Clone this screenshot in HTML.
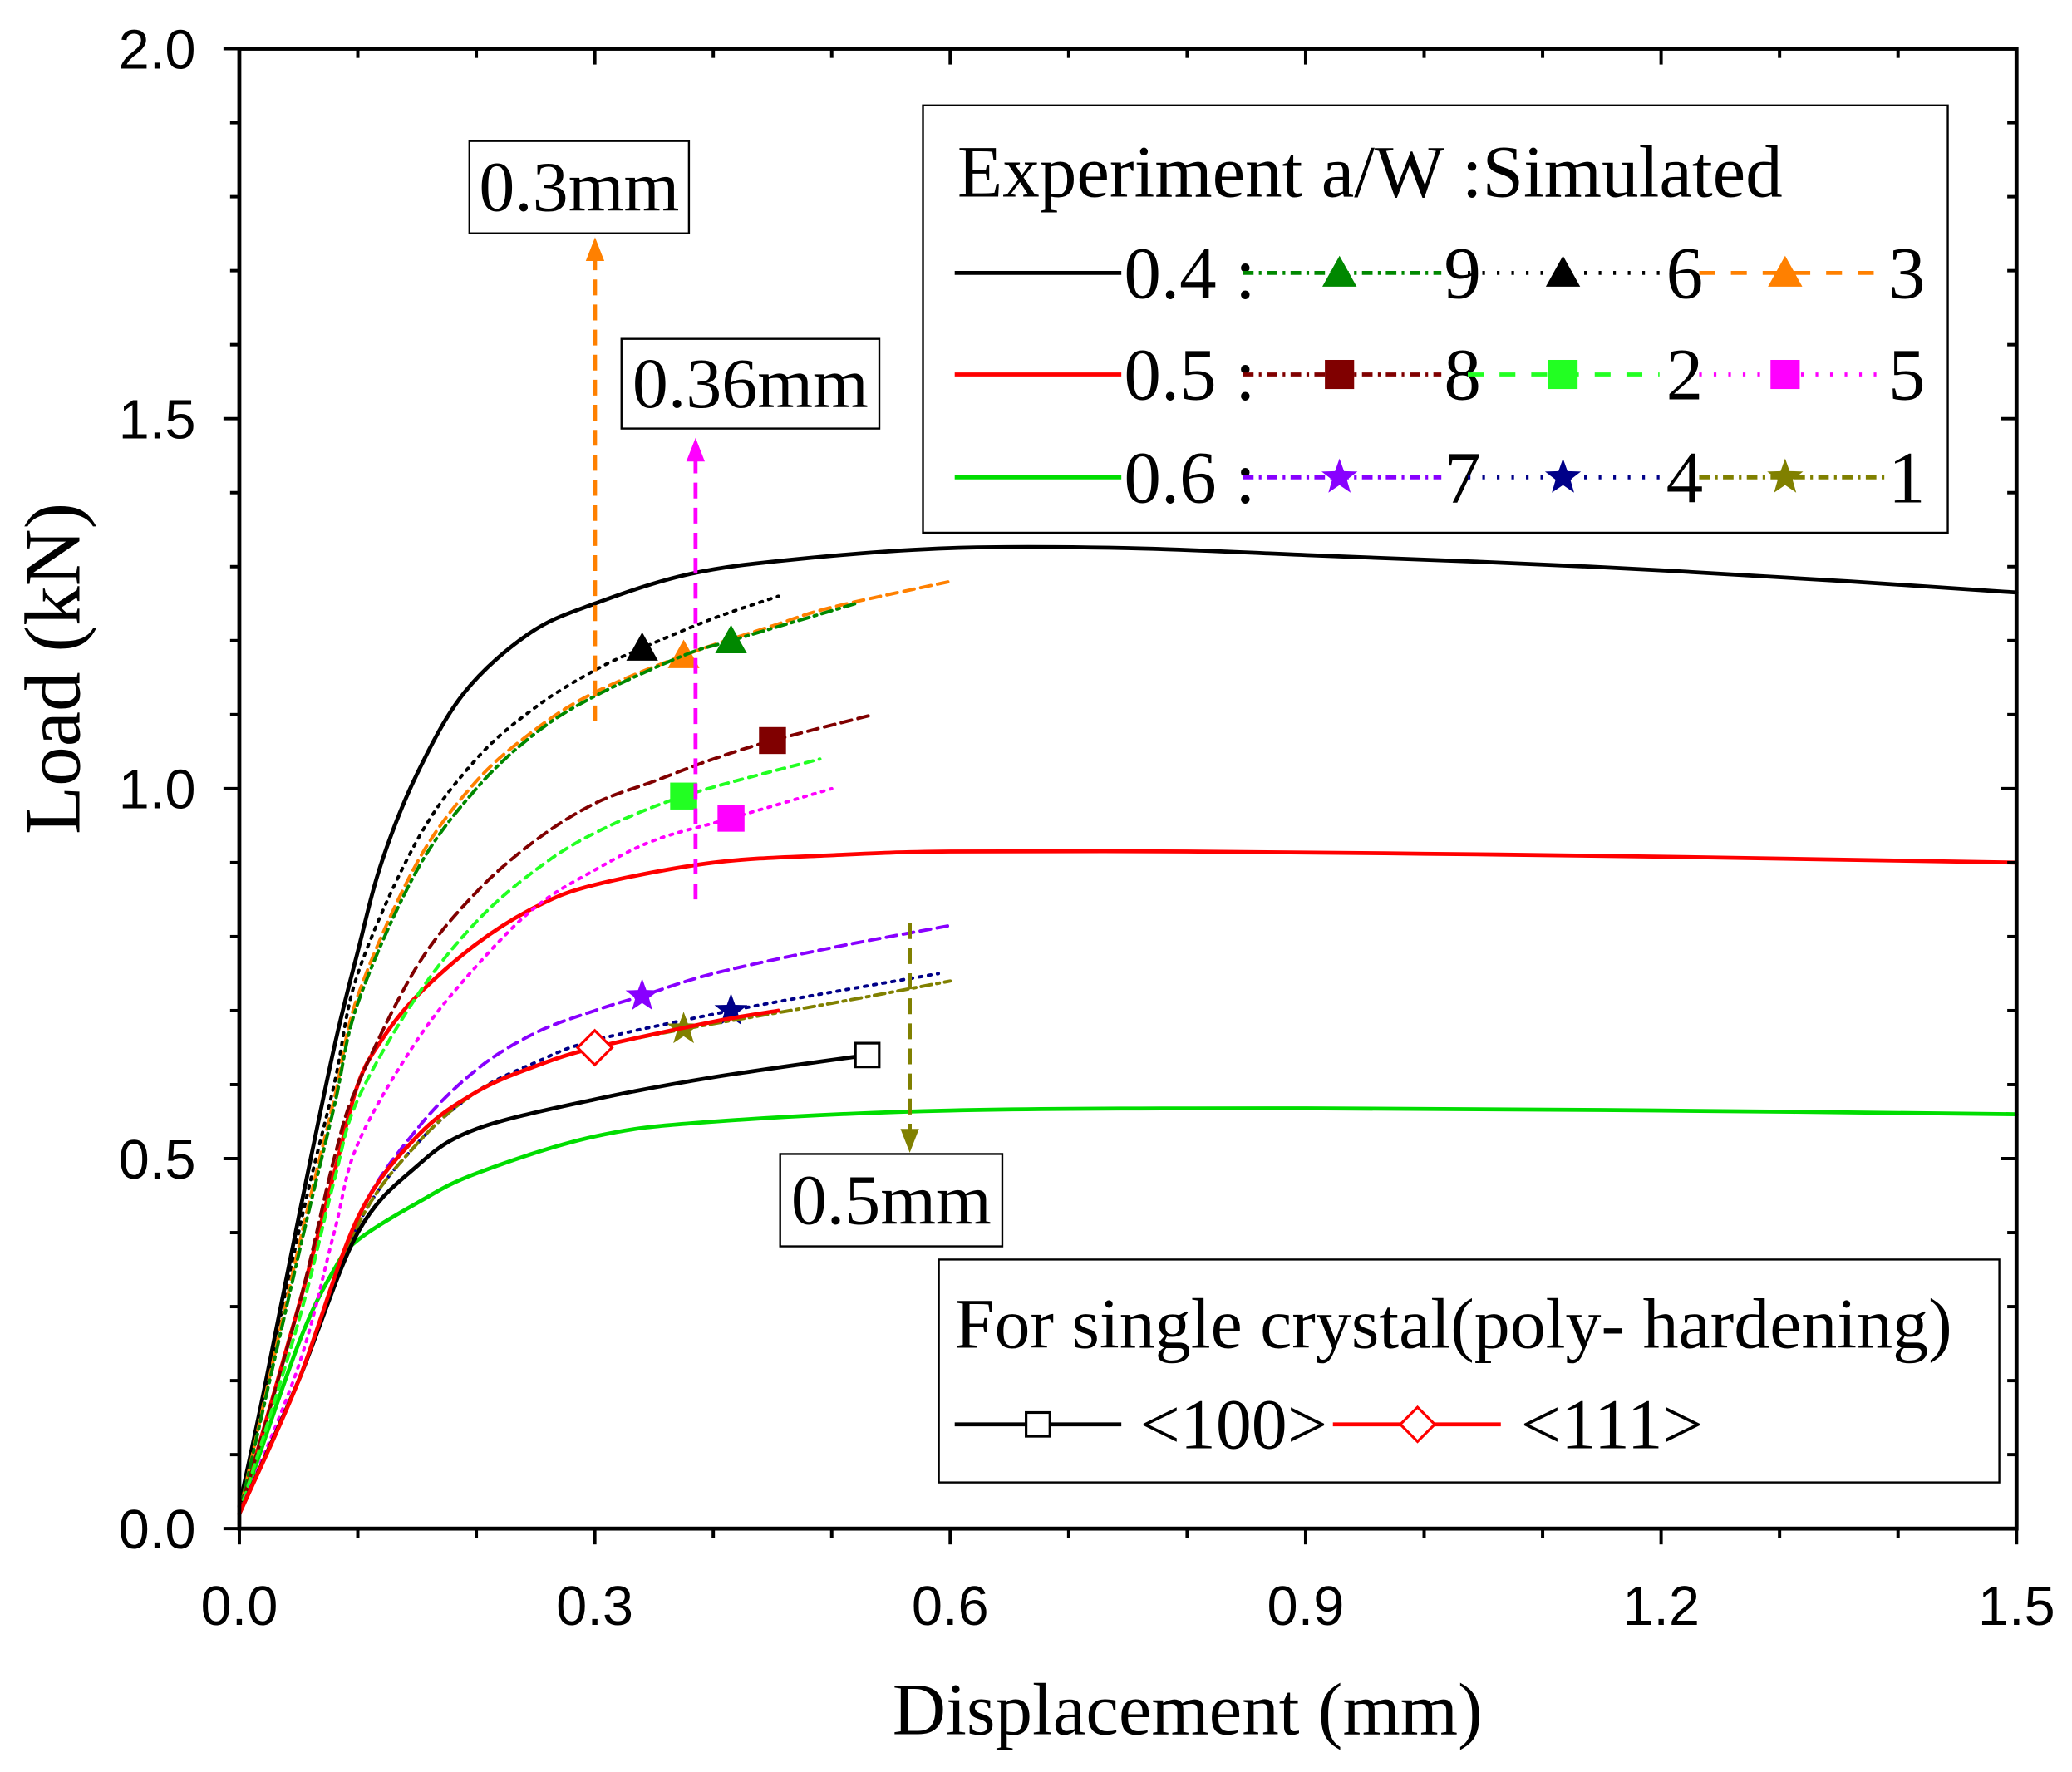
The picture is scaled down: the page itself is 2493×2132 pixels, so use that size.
<!DOCTYPE html>
<html><head><meta charset="utf-8"><style>html,body{margin:0;padding:0;background:#fff}svg{display:block}</style></head>
<body>
<svg id="chart" xmlns="http://www.w3.org/2000/svg" width="2493" height="2132" viewBox="0 0 2493 2132">
<rect width="2493" height="2132" fill="#fff"/>
<g id="root" transform="translate(0,3) scale(1.591,1.587)"></g>
</svg>
<script>
// ---- data ----
const xTicks = [0.0, 0.3, 0.6, 0.9, 1.2, 1.5];
const yTicks = [0.0, 0.5, 1.0, 1.5, 2.0];
const exp04X = [0,0.02,0.05,0.08,0.1,0.12,0.15,0.19,0.245,0.3,0.38,0.47,0.6,0.75,0.91,1.14,1.36,1.5];
const exp04Y = [0.03,0.18,0.42,0.65,0.78,0.9,1.02,1.13,1.21,1.25,1.29,1.31,1.325,1.325,1.315,1.3,1.28,1.265];
const exp05X = [0,0.05,0.08,0.1,0.12,0.15,0.2,0.25,0.3,0.4,0.5,0.6,0.8,1.0,1.2,1.5];
const exp05Y = [0.02,0.3,0.48,0.6,0.66,0.72,0.79,0.84,0.87,0.9,0.91,0.915,0.915,0.912,0.908,0.9];
const exp06X = [0,0.05,0.08,0.1,0.15,0.2,0.3,0.4,0.6,0.9,1.2,1.5];
const exp06Y = [0.02,0.25,0.35,0.39,0.44,0.48,0.53,0.55,0.565,0.568,0.565,0.56];
const sim6X = [0,0.05,0.08,0.1,0.15,0.2,0.25,0.3,0.34,0.4,0.455];
const sim6Y = [0.02,0.4,0.6,0.75,0.93,1.04,1.11,1.16,1.19,1.23,1.26];
const sim3X = [0,0.05,0.08,0.1,0.15,0.2,0.25,0.3,0.375,0.45,0.5,0.6];
const sim3Y = [0.02,0.38,0.58,0.72,0.9,1.01,1.08,1.13,1.18,1.22,1.245,1.28];
const sim9X = [0,0.05,0.08,0.1,0.15,0.2,0.25,0.3,0.375,0.415,0.52];
const sim9Y = [0.02,0.37,0.57,0.71,0.89,1.0,1.075,1.125,1.18,1.2,1.25];
const sim8X = [0,0.05,0.08,0.1,0.15,0.2,0.25,0.3,0.35,0.4,0.45,0.535];
const sim8Y = [0.02,0.3,0.5,0.6,0.76,0.86,0.93,0.98,1.01,1.04,1.065,1.1];
const sim2X = [0,0.05,0.08,0.1,0.15,0.2,0.25,0.3,0.375,0.49];
const sim2Y = [0.02,0.28,0.47,0.58,0.72,0.82,0.89,0.94,0.99,1.04];
const sim5X = [0,0.05,0.08,0.1,0.15,0.2,0.25,0.3,0.35,0.415,0.5];
const sim5Y = [0.02,0.22,0.4,0.52,0.66,0.76,0.84,0.89,0.93,0.96,1.0];
const sim7X = [0,0.05,0.1,0.15,0.2,0.25,0.3,0.34,0.4,0.5,0.6];
const sim7Y = [0.02,0.2,0.42,0.54,0.62,0.67,0.7,0.72,0.75,0.785,0.815];
const sim4X = [0,0.05,0.1,0.15,0.2,0.25,0.3,0.415,0.5,0.59];
const sim4Y = [0.02,0.2,0.41,0.52,0.59,0.63,0.66,0.7,0.725,0.75];
const sim1X = [0,0.05,0.1,0.15,0.2,0.25,0.3,0.375,0.5,0.6];
const sim1Y = [0.02,0.2,0.41,0.52,0.59,0.625,0.65,0.675,0.71,0.74];
const c100X = [0,0.05,0.1,0.15,0.2,0.3,0.4,0.53];
const c100Y = [0.02,0.2,0.4,0.49,0.54,0.58,0.61,0.64];
const c111X = [0,0.05,0.1,0.15,0.2,0.25,0.3,0.4,0.455];
const c111Y = [0.02,0.2,0.42,0.53,0.59,0.625,0.65,0.685,0.7];

const NS='http://www.w3.org/2000/svg';
const root=document.getElementById('root');
const xs=v=>181+v/1.5*1344;
const ys=v=>1157-v/2*1122;
function el(tag,attrs,parent){const e=document.createElementNS(NS,tag);for(const k in attrs)e.setAttribute(k,attrs[k]);(parent||root).appendChild(e);return e;}
function smooth(pts){let d='M'+pts[0][0]+','+pts[0][1];for(let i=0;i<pts.length-1;i++){const p0=pts[i-1]||pts[i],p1=pts[i],p2=pts[i+1],p3=pts[i+2]||p2;d+=' C'+(p1[0]+(p2[0]-p0[0])/6)+','+(p1[1]+(p2[1]-p0[1])/6)+' '+(p2[0]-(p3[0]-p1[0])/6)+','+(p2[1]-(p3[1]-p1[1])/6)+' '+p2[0]+','+p2[1];}return d;}
function marker(type,cx,cy,color,parent,s){s=s||12;let e;
 if(type==='tri')e=el('polygon',{points:`${cx},${cy-s} ${cx-s},${cy+s*0.8} ${cx+s},${cy+s*0.8}`,fill:color},parent);
 else if(type==='sq')e=el('rect',{x:cx-s*0.85,y:cy-s*0.85,width:s*1.7,height:s*1.7,fill:color},parent);
 else if(type==='star'){let p=[];for(let i=0;i<10;i++){const r=i%2?s*0.45:s*1.1,a=-Math.PI/2+i*Math.PI/5;p.push((cx+r*Math.cos(a)).toFixed(1)+','+(cy+r*Math.sin(a)).toFixed(1));}e=el('polygon',{points:p.join(' '),fill:color},parent);}
 else if(type==='osq')e=el('rect',{x:cx-9,y:cy-9,width:18,height:18,fill:'#fff',stroke:color,'stroke-width':2},parent);
 else if(type==='odia')e=el('polygon',{points:`${cx},${cy-13} ${cx+13},${cy} ${cx},${cy+13} ${cx-13},${cy}`,fill:'#fff',stroke:color,'stroke-width':2},parent);
 return e;}

const series=[
 {n:'series-exp-0.4',x:exp04X,y:exp04Y,c:'#000',w:3,d:''},
 {n:'series-exp-0.5',x:exp05X,y:exp05Y,c:'#f00',w:3,d:''},
 {n:'series-exp-0.6',x:exp06X,y:exp06Y,c:'#0d0',w:3,d:''},
 {n:'series-sim-6',x:sim6X,y:sim6Y,c:'#000',w:2.5,d:'2,5',m:'tri',mi:8},
 {n:'series-sim-3',x:sim3X,y:sim3Y,c:'#ff8000',w:2.5,d:'8,5',m:'tri',mi:8},
 {n:'series-sim-9',x:sim9X,y:sim9Y,c:'#080',w:2.5,d:'8,4,2,4',m:'tri',mi:9},
 {n:'series-sim-8',x:sim8X,y:sim8Y,c:'#800000',w:2.5,d:'8,5',m:'sq',mi:10},
 {n:'series-sim-2',x:sim2X,y:sim2Y,c:'#2f2',w:2.5,d:'6,5',m:'sq',mi:8},
 {n:'series-sim-5',x:sim5X,y:sim5Y,c:'#f0f',w:2.5,d:'2,5',m:'sq',mi:9},
 {n:'series-sim-7',x:sim7X,y:sim7Y,c:'#80f',w:2.5,d:'8,5',m:'star',mi:7},
 {n:'series-sim-4',x:sim4X,y:sim4Y,c:'#008',w:2.5,d:'2,5',m:'star',mi:7},
 {n:'series-sim-1',x:sim1X,y:sim1Y,c:'#808000',w:2.5,d:'8,4,2,4',m:'star',mi:7},
 {n:'series-crystal-100',x:c100X,y:c100Y,c:'#000',w:3,d:'',m:'osq',mi:7},
 {n:'series-crystal-111',x:c111X,y:c111Y,c:'#f00',w:3,d:'',m:'odia',mi:6},
];
series.forEach(s=>{
 const g=el('g',{});
 
 
 const pts=s.x.map((v,i)=>[xs(v),ys(s.y[i])]);
 const p=el('path',{d:smooth(pts),fill:'none',stroke:s.c,'stroke-width':s.w,'stroke-dasharray':s.d,'stroke-linecap':'round'},g);
 
 
 if(s.m){const mk=marker(s.m,xs(s.x[s.mi]),ys(s.y[s.mi]),s.c,g);
  
  }
});

const frame=el('rect',{x:181,y:35,width:1344,height:1122,fill:'none',stroke:'#000','stroke-width':3});


for(let v=0;v<=1.5001;v+=0.1){const major=Math.abs(v/0.3-Math.round(v/0.3))<1e-6;const L=major?12:7;const x=xs(v);
 el('line',{x1:x,y1:1157,x2:x,y2:1157+L,stroke:'#000','stroke-width':2.5});
 el('line',{x1:x,y1:35,x2:x,y2:35+L,stroke:'#000','stroke-width':2.5});}
for(let v=0;v<=2.0001;v+=0.1){const major=Math.abs(v/0.5-Math.round(v/0.5))<1e-6;const L=major?12:7;const y=ys(v);
 el('line',{x1:181,y1:y,x2:181-L,y2:y,stroke:'#000','stroke-width':2.5});
 el('line',{x1:1525,y1:y,x2:1525-L,y2:y,stroke:'#000','stroke-width':2.5});}
xTicks.forEach(v=>{const t=el('text',{x:xs(v),y:1230,'text-anchor':'middle','font-family':'Liberation Sans, sans-serif','font-size':42});t.textContent=v.toFixed(1);
 
 });
yTicks.forEach(v=>{const t=el('text',{x:148,y:ys(v)+15,'text-anchor':'end','font-family':'Liberation Sans, sans-serif','font-size':42});t.textContent=v.toFixed(1);
 
 });
let t=el('text',{x:898,y:1313,'text-anchor':'middle','font-family':'Liberation Serif, serif','font-size':56});t.textContent='Displacement (mm)';


t=el('text',{x:0,y:0,transform:'translate(60,505) rotate(-90)','text-anchor':'middle','font-family':'Liberation Serif, serif','font-size':60});t.textContent='Load (kN)';



function arrow(name,x,y1,y2,color,dash){const g=el('g',{});
 
 
 const dir=y2<y1?1:-1;
 el('line',{x1:x,y1:y1,x2:x,y2:y2+dir*14,stroke:color,'stroke-width':3,'stroke-dasharray':dash},g);
 el('polygon',{points:`${x},${y2} ${x-7},${y2+dir*18} ${x+7},${y2+dir*18}`,fill:color},g);}
arrow('arrow-0.3mm',450,545,178,'#ff8000','12,7');
arrow('arrow-0.36mm',526,680,330,'#f0f','12,7');
arrow('arrow-0.5mm',688,698,872,'#808000','12,7');
function box(name,x,y,w,h,txt){const g=el('g',{});
 
 
 el('rect',{x:x,y:y,width:w,height:h,fill:'#fff',stroke:'#000','stroke-width':1.5},g);
 const tt=el('text',{x:x+w/2,y:y+h/2+18,'text-anchor':'middle','font-family':'Liberation Serif, serif','font-size':54},g);tt.textContent=txt;}
box('label-0.3mm',355,105,166,70,'0.3mm');
box('label-0.36mm',470,255,195,68,'0.36mm');
box('label-0.5mm',590,873,168,70,'0.5mm');

const lg=el('g',{});


el('rect',{x:698,y:78,width:775,height:324,fill:'#fff',stroke:'#000','stroke-width':1.5},lg);
t=el('text',{x:724,y:147,'font-family':'Liberation Serif, serif','font-size':56},lg);t.textContent='Experiment a/W :Simulated';
const rows=[
 {y:205,lab:'0.4 :',c:'#000',items:[['9','#080','8,4,2,4','tri'],['6','#000','2,9','tri'],['3','#ff8000','12,12','tri']]},
 {y:282,lab:'0.5 :',c:'#f00',items:[['8','#800000','8,4,2,4','sq'],['2','#2f2','12,12','sq'],['5','#f0f','2,9','sq']]},
 {y:360,lab:'0.6 :',c:'#0d0',items:[['7','#80f','8,4,2,4','star'],['4','#008','2,9','star'],['1','#808000','8,4,2,4','star']]}];
const segs=[[940,1090,1013,1092],[1110,1255,1182,1260],[1285,1425,1350,1428]];
rows.forEach(r=>{
 el('line',{x1:722,y1:r.y,x2:848,y2:r.y,stroke:r.c,'stroke-width':3},lg);
 const tl=el('text',{x:850,y:r.y+19,'font-family':'Liberation Serif, serif','font-size':56},lg);tl.textContent=r.lab;
 
 
 r.items.forEach((it,i)=>{const s=segs[i];
  el('line',{x1:s[0],y1:r.y,x2:s[1],y2:r.y,stroke:it[1],'stroke-width':3,'stroke-dasharray':it[2]},lg);
  marker(it[3],s[2],r.y,it[1],lg,13);
  const tn=el('text',{x:s[3],y:r.y+19,'font-family':'Liberation Serif, serif','font-size':56},lg);tn.textContent=it[0];
  
  });
});

const lg2=el('g',{});


el('rect',{x:710,y:953,width:802,height:169,fill:'#fff',stroke:'#000','stroke-width':1.5},lg2);
t=el('text',{x:722,y:1020,'font-family':'Liberation Serif, serif','font-size':54},lg2);t.textContent='For single crystal(poly- hardening)';
el('line',{x1:722,y1:1078,x2:848,y2:1078,stroke:'#000','stroke-width':3},lg2);
marker('osq',785,1078,'#000',lg2);
t=el('text',{x:862,y:1096,'font-family':'Liberation Serif, serif','font-size':54},lg2);t.textContent='<100>';
el('line',{x1:1008,y1:1078,x2:1135,y2:1078,stroke:'#f00','stroke-width':3},lg2);
marker('odia',1072,1078,'#f00',lg2);
t=el('text',{x:1150,y:1096,'font-family':'Liberation Serif, serif','font-size':54},lg2);t.textContent='<111>';
</script>
</body></html>
